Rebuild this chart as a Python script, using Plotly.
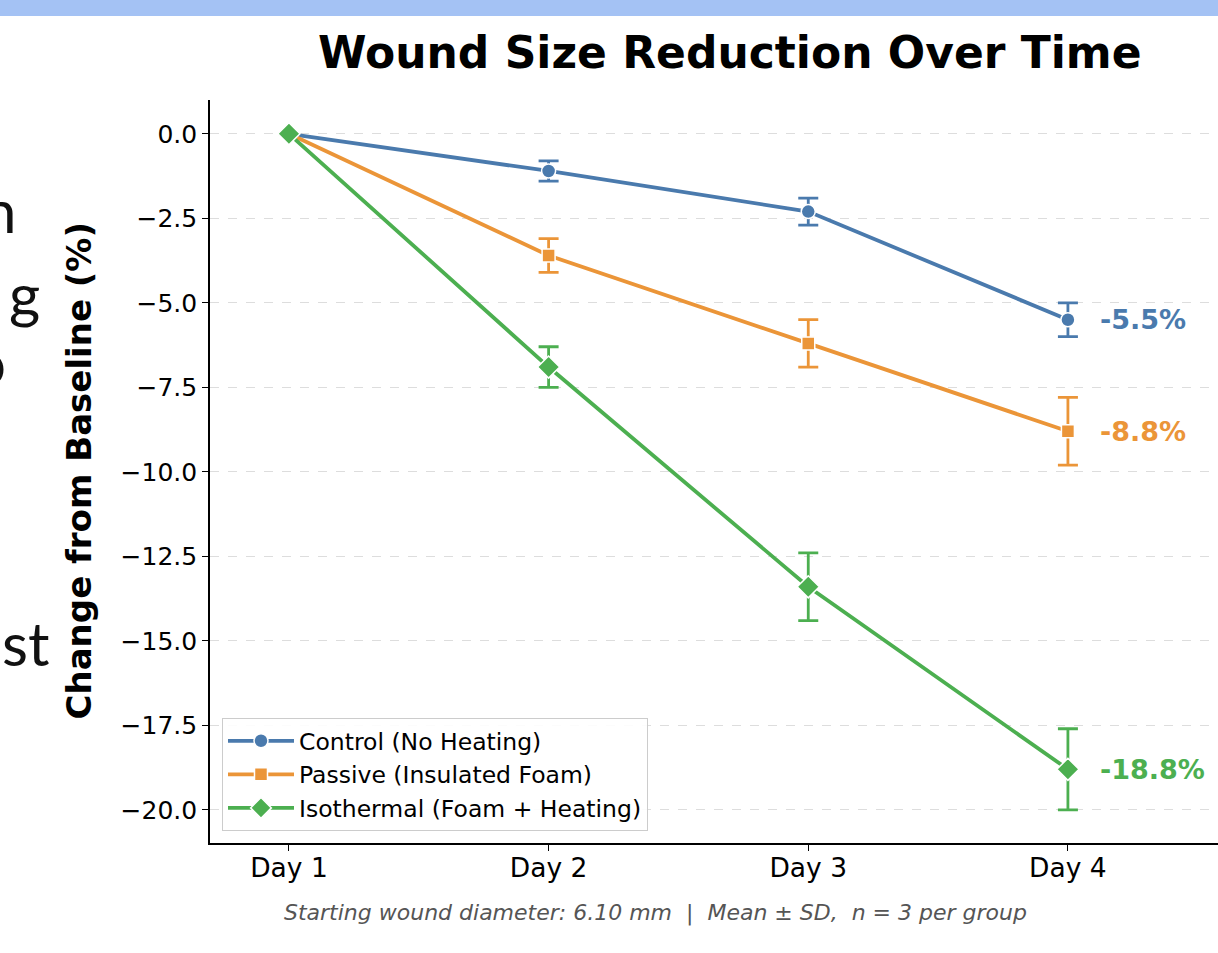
import plotly.graph_objects as go

days = ['Day 1', 'Day 2', 'Day 3', 'Day 4']

groups = ['Control (No Heating)', 'Passive (Insulated Foam)', 'Isothermal (Foam + Heating)']
means = [
    [0.0, -1.1, -2.3, -5.5],
    [0.0, -3.6, -6.2, -8.8],
    [0.0, -6.9, -13.4, -18.8],
]
sds = [
    [0.0, 0.3, 0.4, 0.5],
    [0.0, 0.5, 0.7, 1.0],
    [0.0, 0.6, 1.0, 1.2],
]

ytick_vals = [0.0, -2.5, -5.0, -7.5, -10.0, -12.5, -15.0, -17.5, -20.0]
ytick_text = ['0.0', '\u22122.5', '\u22125.0', '\u22127.5', '\u221210.0',
              '\u221212.5', '\u221215.0', '\u221217.5', '\u221220.0']

# cropped text bleeding in from the page behind the chart
edge_text = ['n', 'g', 'o', '.', 'st']

colors = ['#4a7aad', '#eb9538', '#4caf50']
symbols = ['circle', 'square', 'diamond']
marker_sizes = [14, 13, 17]

W, H = 1218, 953
L, R, T, B = 210, 1218, 100, 843


def px_x(p):
    return (p - L) / (R - L)


def px_y(p):
    return (B - p) / (B - T)


fig = go.Figure()

for name, m, s, c, sym, ms in zip(groups, means, sds, colors, symbols, marker_sizes):
    fig.add_trace(go.Scatter(
        x=list(range(len(days))),
        y=m,
        name=name,
        legendgroup=name,
        mode='lines+markers',
        line=dict(color=c, width=3.8),
        marker=dict(symbol=sym, size=ms, color=c, line=dict(color='white', width=1.5)),
        error_y=dict(type='data', array=s, visible=True, color=c, thickness=2.8, width=10),
    ))
    fig.add_annotation(
        x=len(days) - 1, y=m[-1], xref='x', yref='y',
        text=f'<b>{m[-1]:.1f}%</b>', showarrow=False,
        xanchor='left', xshift=30,
        font=dict(family='DejaVu Sans', size=27, color=c),
    )

annotations = [
    dict(text='<b>Wound Size Reduction Over Time</b>', x=px_x(730), y=px_y(52),
         font=dict(size=44, color='black')),
    dict(text='<b>Change from Baseline (%)</b>', x=px_x(78), y=0.5, textangle=-90,
         font=dict(size=34, color='black')),
    dict(text='<i>Starting wound diameter: 6.10 mm  |  Mean \u00b1 SD,  n = 3 per group</i>',
         x=px_x(655), y=px_y(913), font=dict(size=22, color='#555555')),
]
for a in annotations:
    fig.add_annotation(xref='paper', yref='paper', showarrow=False,
                       xanchor='center', yanchor='middle', **a)

edge_pos = [(18, 210), (42, 294), (8, 362), (5, 445), (52, 643)]
for t, (ex, ey) in zip(edge_text, edge_pos):
    fig.add_annotation(text=t, xref='paper', yref='paper', x=px_x(ex), y=px_y(ey),
                       xanchor='right', yanchor='middle', showarrow=False,
                       font=dict(family='Lato', size=60, color='#111111'))

fig.add_shape(type='rect', xref='paper', yref='paper',
              x0=px_x(0), x1=px_x(W), y0=px_y(16), y1=px_y(0),
              fillcolor='#a4c2f4', line=dict(width=0), layer='above')

fig.update_layout(
    width=W, height=H,
    margin=dict(l=L, r=W - R, t=T, b=H - B),
    paper_bgcolor='white', plot_bgcolor='white',
    font=dict(family='DejaVu Sans', size=24, color='black'),
    showlegend=True,
    legend=dict(
        x=px_x(222), y=px_y(718), xanchor='left', yanchor='top',
        bgcolor='rgba(255,255,255,0.9)', bordercolor='#cccccc', borderwidth=1,
        font=dict(size=23.5), itemwidth=66, tracegroupgap=0,
    ),
)

fig.update_xaxes(
    range=[-0.304, 3.578],
    tickvals=list(range(len(days))), ticktext=days,
    showline=True, linecolor='black', linewidth=1.6,
    ticks='outside', ticklen=6, tickwidth=1.3, tickcolor='black',
    showgrid=False, zeroline=False, tickfont=dict(size=26.5),
    ticklabelstandoff=-6,
)
fig.update_yaxes(
    range=[-20.98, 1.0],
    tickvals=ytick_vals, ticktext=ytick_text,
    showline=True, linecolor='black', linewidth=1.6,
    ticks='outside', ticklen=6, tickwidth=1.3, tickcolor='black',
    showgrid=True, gridcolor='#dddddd', gridwidth=1, griddash='dash',
    zeroline=False, tickfont=dict(size=25),
)

fig.write_html('out.html', config={'displayModeBar': False},
               post_script="document.body.style.margin='0px';")
